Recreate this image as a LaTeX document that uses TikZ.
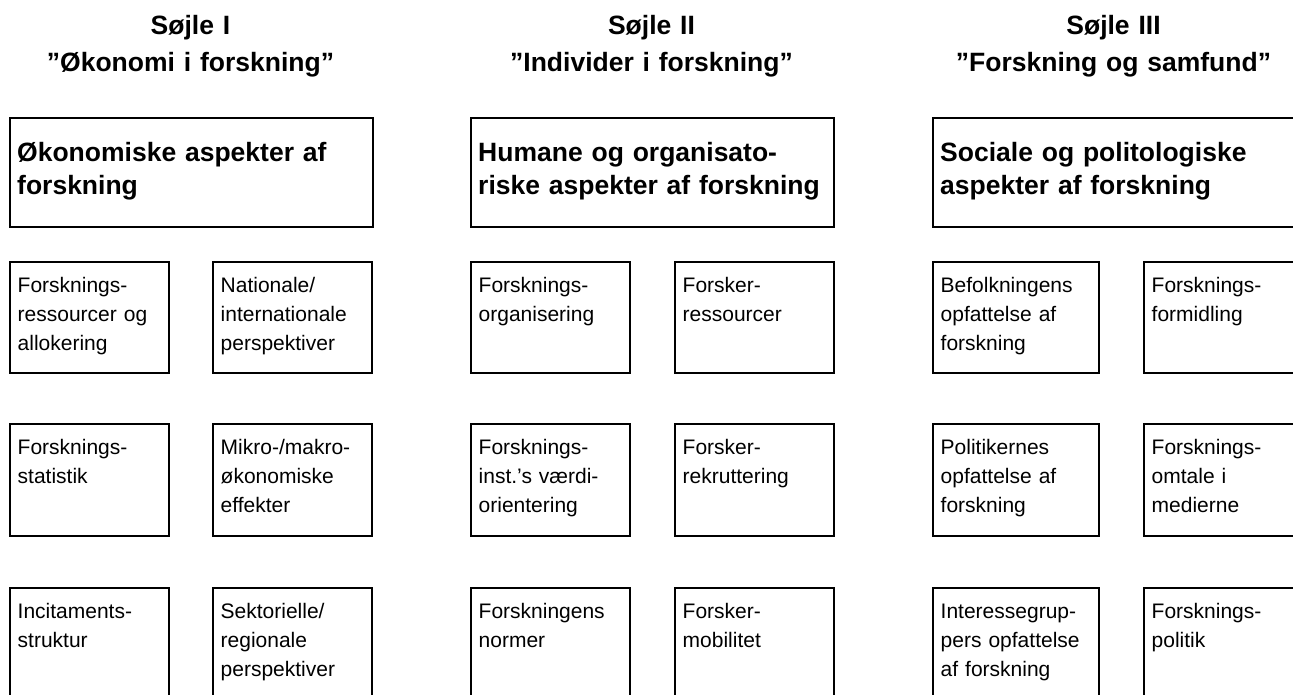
\documentclass[tikz,border=0pt]{standalone}
\usepackage{fontspec}
\setmainfont{Liberation Sans}
\usetikzlibrary{calc}
\begin{document}
\begin{tikzpicture}[x=1pt,y=-1pt,
 box/.style={draw,line width=1.7pt,rectangle,inner sep=0pt,anchor=north west},
 bigbox/.style={box,minimum width=363pt,minimum height=109pt},
 sbox/.style={box,minimum width=159pt,minimum height=111pt},
 small/.style={anchor=base west,inner sep=0pt,align=left,text width=160pt,font=\fontsize{21}{29}\selectfont},
 big/.style={anchor=base west,inner sep=0pt,align=left,text width=360pt,font=\bfseries\fontsize{26.5}{33}\selectfont},
 title/.style={anchor=base,inner sep=0pt,align=center,text width=420pt,font=\bfseries\fontsize{26.5}{37}\selectfont}]
\useasboundingbox (0,0) rectangle (1293,694);
\clip (0,0) rectangle (1293,694);
% titles
\node[title] (h1) at (190.5,34) {Søjle I\\”Økonomi i forskning”};
\node[title] (h2) at (651.5,34) {Søjle II\\”Individer i forskning”};
\node[title] (h3) at (1113.5,34) {Søjle III\\”Forskning og samfund”};
% big boxes
\node[bigbox] (b1) at (9,117) {};
\node[bigbox] (b2) at (470,117) {};
\node[bigbox] (b3) at (932,117) {};
\node[big] (bt1) at ($(b1.north west)+(8,44)$) {Økonomiske aspekter af\\forskning};
\node[big] (bt2) at ($(b2.north west)+(8,44)$) {Humane og organisato-\\riske aspekter af forskning};
\node[big] (bt3) at ($(b3.north west)+(8,44)$) {Sociale og politologiske\\aspekter af forskning};
% column I
\node[sbox] (a11) at (9,261) {};
\node[sbox] (a12) at (212,261) {};
\node[sbox,minimum height=112pt] (a21) at (9,423) {};
\node[sbox,minimum height=112pt] (a22) at (212,423) {};
\node[sbox,minimum height=112pt] (a31) at (9,587) {};
\node[sbox,minimum height=112pt] (a32) at (212,587) {};
\node[small] (ta11) at ($(a11.north west)+(8.5,31)$) {Forsknings-\\ressourcer og\\allokering};
\node[small] (ta12) at ($(a12.north west)+(8.5,31)$) {Nationale/\\internationale\\perspektiver};
\node[small] (ta21) at ($(a21.north west)+(8.5,31)$) {Forsknings-\\statistik};
\node[small] (ta22) at ($(a22.north west)+(8.5,31)$) {Mikro-/makro-\\økonomiske\\effekter};
\node[small] (ta31) at ($(a31.north west)+(8.5,31)$) {Incitaments-\\struktur};
\node[small] (ta32) at ($(a32.north west)+(8.5,31)$) {Sektorielle/\\regionale\\perspektiver};
% column II
\node[sbox] (c11) at (470,261) {};
\node[sbox] (c12) at (674,261) {};
\node[sbox,minimum height=112pt] (c21) at (470,423) {};
\node[sbox,minimum height=112pt] (c22) at (674,423) {};
\node[sbox,minimum height=112pt] (c31) at (470,587) {};
\node[sbox,minimum height=112pt] (c32) at (674,587) {};
\node[small] (tc11) at ($(c11.north west)+(8.5,31)$) {Forsknings-\\organisering};
\node[small] (tc12) at ($(c12.north west)+(8.5,31)$) {Forsker-\\ressourcer};
\node[small] (tc21) at ($(c21.north west)+(8.5,31)$) {Forsknings-\\inst.’s værdi-\\orientering};
\node[small] (tc22) at ($(c22.north west)+(8.5,31)$) {Forsker-\\rekruttering};
\node[small] (tc31) at ($(c31.north west)+(8.5,31)$) {Forskningens\\normer};
\node[small] (tc32) at ($(c32.north west)+(8.5,31)$) {Forsker-\\mobilitet};
% column III
\node[sbox,minimum width=166pt] (d11) at (932,261) {};
\node[sbox,minimum width=160pt] (d12) at (1143,261) {};
\node[sbox,minimum width=166pt,minimum height=112pt] (d21) at (932,423) {};
\node[sbox,minimum width=160pt,minimum height=112pt] (d22) at (1143,423) {};
\node[sbox,minimum width=166pt,minimum height=112pt] (d31) at (932,587) {};
\node[sbox,minimum width=160pt,minimum height=112pt] (d32) at (1143,587) {};
\node[small] (td11) at ($(d11.north west)+(8.5,31)$) {Befolkningens\\opfattelse af\\forskning};
\node[small] (td12) at ($(d12.north west)+(8.5,31)$) {Forsknings-\\formidling};
\node[small] (td21) at ($(d21.north west)+(8.5,31)$) {Politikernes\\opfattelse af\\forskning};
\node[small] (td22) at ($(d22.north west)+(8.5,31)$) {Forsknings-\\omtale i\\medierne};
\node[small] (td31) at ($(d31.north west)+(8.5,31)$) {Interessegrup-\\pers opfattelse\\af forskning};
\node[small] (td32) at ($(d32.north west)+(8.5,31)$) {Forsknings-\\politik};
\end{tikzpicture}
\end{document}
